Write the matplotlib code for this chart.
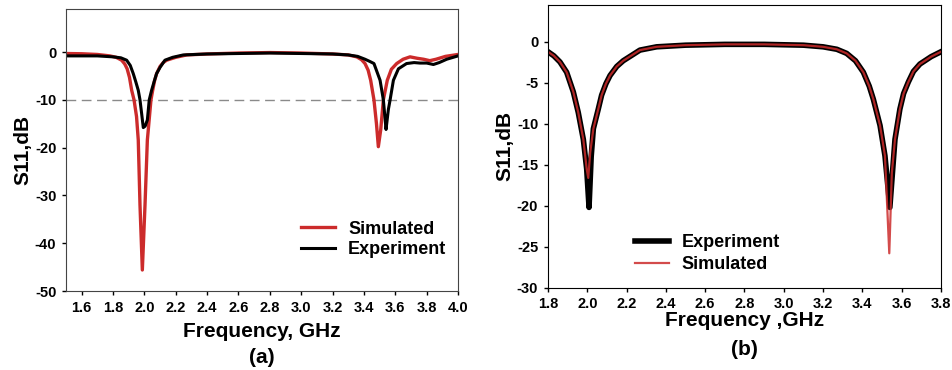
import numpy as np
import matplotlib.pyplot as plt

plt.rcParams['font.family'] = ['Liberation Sans', 'DejaVu Sans']
plt.rcParams['font.weight'] = 'bold'
plt.rcParams['axes.unicode_minus'] = False

# (a) simulated / measured S11
freq_a_sim = [1.50, 1.60, 1.70, 1.78, 1.82, 1.855, 1.875, 1.89, 1.905, 1.919, 1.934,
              1.95, 1.961, 1.972, 1.987, 2.004, 2.019, 2.042, 2.053, 2.065, 2.078,
              2.10, 2.12, 2.142, 2.20, 2.27, 2.40, 2.60, 2.80, 3.00, 3.20, 3.30,
              3.354, 3.385, 3.407, 3.427, 3.443, 3.464, 3.48, 3.492, 3.507, 3.524,
              3.549, 3.575, 3.609, 3.65, 3.694, 3.74, 3.78, 3.82, 3.86, 3.92, 4.00]
s11_a_sim = [-0.3, -0.35, -0.5, -0.8, -1.1, -1.7, -2.5, -3.5, -5.3, -8, -10,
             -13.5, -18.4, -32, -45.6, -32, -18.4, -10, -8, -6, -4.5,
             -3, -2.2, -1.7, -1.1, -0.6, -0.4, -0.2, -0.1, -0.2, -0.4, -0.6,
             -1.0, -1.6, -2.4, -3.8, -5.9, -10, -15, -19.8, -16.3, -10,
             -5.9, -3.6, -2.4, -1.5, -1.0, -1.3, -1.5, -1.8, -1.5, -0.9, -0.5]
freq_a_exp = [1.50, 1.70, 1.80, 1.85, 1.887, 1.91, 1.929, 1.945, 1.961, 1.972,
              1.983, 1.993, 2.005, 2.019, 2.031, 2.046, 2.062, 2.078, 2.10, 2.131,
              2.18, 2.248, 2.40, 2.60, 2.80, 3.00, 3.20, 3.30, 3.36, 3.407, 3.44,
              3.464, 3.503, 3.524, 3.535, 3.541, 3.556, 3.567, 3.588, 3.62,
              3.672, 3.72, 3.757, 3.80, 3.843, 3.88, 3.928, 4.00]
s11_a_exp = [-0.8, -0.8, -1.0, -1.2, -1.7, -2.8, -4.5, -6.2, -8, -10,
             -13, -15.8, -15.5, -14.2, -10, -8, -6.2, -4.5, -3.2, -1.7,
             -1.1, -0.6, -0.4, -0.3, -0.2, -0.3, -0.4, -0.6, -0.9, -1.5, -2.0,
             -2.4, -5.9, -10, -14, -16.2, -12, -10, -5.9, -3.5,
             -2.4, -2.2, -2.3, -2.3, -2.6, -2.2, -1.5, -0.8]

# (b) measured / simulated S11
freq_b_exp = [1.80, 1.83, 1.861, 1.895, 1.929, 1.954, 1.98, 1.997, 2.009, 2.02,
              2.031, 2.056, 2.073, 2.095, 2.116, 2.15, 2.183, 2.268, 2.353, 2.50,
              2.70, 2.90, 3.10, 3.20, 3.27, 3.32, 3.365, 3.405, 3.435, 3.456,
              3.49, 3.515, 3.54, 3.566, 3.591, 3.61, 3.634, 3.66, 3.693, 3.75, 3.80]
s11_b_exp = [-1.2, -1.7, -2.45, -3.7, -6.1, -8.6, -11.9, -15.5, -20.2, -14,
             -10.6, -8.2, -6.5, -5.1, -4.1, -3.0, -2.3, -1.0, -0.6, -0.4,
             -0.3, -0.3, -0.4, -0.6, -0.9, -1.4, -2.3, -3.7, -5.4, -7,
             -10.2, -13.9, -20.2, -11.9, -8.2, -6.3, -4.9, -3.6, -2.7, -1.8, -1.2]
freq_b_sim = [1.80, 1.83, 1.861, 1.895, 1.929, 1.954, 1.98, 1.997, 2.005, 2.015,
              2.031, 2.056, 2.073, 2.095, 2.116, 2.15, 2.183, 2.268, 2.353, 2.50,
              2.70, 2.90, 3.10, 3.20, 3.27, 3.32, 3.365, 3.405, 3.435, 3.456,
              3.49, 3.515, 3.537, 3.55, 3.566, 3.591, 3.61, 3.634, 3.66, 3.693,
              3.75, 3.80]
s11_b_sim = [-1.2, -1.7, -2.45, -3.7, -6.1, -8.6, -11.9, -15.5, -16.6, -13.5,
             -10.6, -8.2, -6.5, -5.1, -4.1, -3.0, -2.3, -1.0, -0.6, -0.4,
             -0.3, -0.3, -0.4, -0.6, -0.9, -1.4, -2.3, -3.7, -5.4, -7,
             -10.2, -13.9, -25.8, -16, -11.9, -8.2, -6.3, -4.9, -3.6, -2.7,
             -1.8, -1.2]

red = '#cc2b2b'

fig = plt.figure(figsize=(9.52, 3.70), dpi=100)
ax1 = fig.add_axes([0.0693, 0.2135, 0.4118, 0.762])
ax2 = fig.add_axes([0.5756, 0.2224, 0.4128, 0.764])

# панель (a)
ax1.axhline(-10, color='#8a8a8a', lw=1.0, dashes=(7, 4))
ax1.plot(freq_a_sim, s11_a_sim, color=red, lw=2.4, label='Simulated')
ax1.plot(freq_a_exp, s11_a_exp, color='black', lw=2.2, label='Experiment')
ax1.set_xlim(1.5, 4.0)
ax1.set_ylim(-50, 9)
ax1.set_xticks(np.arange(1.6, 4.01, 0.2))
ax1.set_yticks([0, -10, -20, -30, -40, -50])
ax1.set_xlabel('Frequency, GHz', fontsize=15, fontweight='bold', labelpad=5)
ax1.set_ylabel('S11,dB', fontsize=15, fontweight='bold', labelpad=2)
ax1.legend(loc='upper left', bbox_to_anchor=(0.6, 0.25), frameon=False,
           borderpad=0, borderaxespad=0, fontsize=13, handlelength=1.9,
           handletextpad=0.7, labelspacing=0.22)
for sp in ax1.spines.values():
    sp.set_color('#444444')
ax1.text(0.5, -0.2376, '(a)', transform=ax1.transAxes, ha='center', va='center',
         fontsize=15, fontweight='bold')

# панель (b)
ax2.plot(freq_b_exp, s11_b_exp, color='black', lw=4.0, label='Experiment')
ax2.plot(freq_b_sim, s11_b_sim, color=red, lw=1.6, alpha=0.85, label='Simulated')
ax2.set_xlim(1.8, 3.8)
ax2.set_ylim(-30, 4.5)
ax2.set_xticks(np.arange(1.8, 3.81, 0.2))
ax2.set_yticks([0, -5, -10, -15, -20, -25, -30])
ax2.set_xlabel('Frequency ,GHz', fontsize=15, fontweight='bold', labelpad=0)
ax2.set_ylabel('S11,dB', fontsize=15, fontweight='bold', labelpad=2)
ax2.legend(loc='upper left', bbox_to_anchor=(0.221, 0.19), frameon=False,
           borderpad=0, borderaxespad=0, fontsize=13, handlelength=1.9,
           handletextpad=0.7, labelspacing=0.3)
ax2.text(0.5, -0.22, '(b)', transform=ax2.transAxes, ha='center', va='center',
         fontsize=15, fontweight='bold')

for ax in (ax1, ax2):
    ax.tick_params(direction='out', length=3, width=1, labelsize=10.5, pad=4)
    for lab in ax.get_xticklabels() + ax.get_yticklabels():
        lab.set_fontweight('bold')
    ax.xaxis.set_major_formatter(plt.FormatStrFormatter('%.1f'))

fig.savefig('out.png', dpi=100)
